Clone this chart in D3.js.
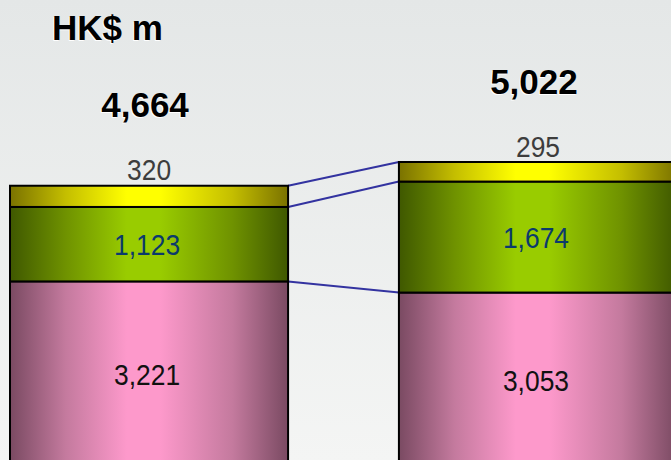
<!DOCTYPE html>
<html>
<head>
<meta charset="utf-8">
<script src="https://cdn.jsdelivr.net/npm/d3@7"></script>
<style>
html,body{margin:0;padding:0;background:#eef0ef;}
svg{display:block;}
</style>
</head>
<body>
<svg id="chart" width="671" height="460"></svg>
<script>
const categories = ["Period 1", "Period 2"];
const bottomValues = [3221, 3053];
const middleValues = [1123, 1674];
const topValues = [320, 295];
const totals = [4664, 5022];
const unitLabel = "HK$ m";

const W = 671, H = 460;
const svg = d3.select("#chart");
const defs = svg.append("defs");

// background
const bg = defs.append("linearGradient").attr("id","bg").attr("x1",0).attr("y1",0).attr("x2",0).attr("y2",1);
bg.append("stop").attr("offset","0%").attr("stop-color","#e4e7e7");
bg.append("stop").attr("offset","100%").attr("stop-color","#f4f5f4");
svg.append("rect").attr("width",W).attr("height",H).attr("fill","url(#bg)");

function hgrad(id, dark, mid, bright){
  const g = defs.append("linearGradient").attr("id",id).attr("x1",0).attr("y1",0).attr("x2",1).attr("y2",0);
  [[0,dark],[0.2,mid],[0.42,bright],[0.54,bright],[0.8,mid],[1,dark]].forEach(s=>{
    g.append("stop").attr("offset",s[0]).attr("stop-color",s[1]);
  });
}
hgrad("gPink","#7a4a62","#c47a9e","#fd99cb");
hgrad("gGreen","#3f5800","#6f9200","#99cc00");
hgrad("gYellow","#7a7200","#c4be00","#ffff00");

const x = d3.scaleBand().domain(categories).range([10, 677]).paddingInner(0.285).paddingOuter(0);
const y = d3.scaleLinear().domain([0, 5022]).range([495, 162]);
const bw = x.bandwidth();

const layers = [
  {vals: bottomValues, fill:"url(#gPink)"},
  {vals: middleValues, fill:"url(#gGreen)"},
  {vals: topValues, fill:"url(#gYellow)"}
];
const stacked = categories.map((c,i)=>{
  let acc = 0;
  return layers.map((l,k)=>{ const y0 = acc; acc += l.vals[i]; return {c, k, y0, y1: acc, v: l.vals[i], fill: l.fill}; });
});

// connectors
const conn = [];
for (let k=0;k<3;k++){
  conn.push({x1: x(categories[0])+bw, y1: y(stacked[0][k].y1), x2: x(categories[1]), y2: y(stacked[1][k].y1)});
}
svg.selectAll("line.conn").data(conn).enter().append("line")
  .attr("x1",d=>d.x1).attr("y1",d=>d.y1).attr("x2",d=>d.x2).attr("y2",d=>d.y2)
  .attr("stroke","#3333a0").attr("stroke-width",2);

// bars
const segs = stacked.flat();
svg.selectAll("rect.seg").data(segs).enter().append("rect")
  .attr("x",d=>x(d.c)).attr("y",d=>y(d.y1)).attr("width",bw).attr("height",d=>y(d.y0)-y(d.y1))
  .attr("fill",d=>d.fill).attr("stroke","#000").attr("stroke-width",2);

const fmt = d3.format(",");
const FF = "'Liberation Sans', Arial, sans-serif";
function addText(txt, cx, by, size, color, weight, sx){
  const g = svg.append("g").attr("transform",`translate(${cx},${by}) scale(${sx},1)`);
  g.append("text").attr("text-anchor","middle").attr("font-family",FF).attr("font-size",size)
   .attr("font-weight",weight).attr("fill",color).text(txt);
}
function addBold(txt, px, by, anchor){
  svg.append("text").attr("x",px-1).attr("y",by+1).attr("text-anchor",anchor).attr("font-family",FF)
    .attr("font-size",35).attr("font-weight","bold").attr("fill","#ffffff").text(txt);
  svg.append("text").attr("x",px).attr("y",by).attr("text-anchor",anchor).attr("font-family",FF)
    .attr("font-size",35).attr("font-weight","bold").attr("fill","#000").text(txt);
}

stacked.forEach((s,i)=>{
  const cx = x(s[0].c) + bw/2;
  const b = s[0];
  addText(fmt(b.v), cx - 2, y(b.y0 + b.v*0.565) + 10.5, 30, "#111111", "normal", 0.88);
  const m = s[1];
  addText(fmt(m.v), cx - 2, (y(m.y0)+y(m.y1))/2 + 10.5, 30, "#0b3a6c", "normal", 0.88);
  const t = s[2];
  addText(fmt(t.v), cx, y(t.y1) - 5.5, 30, "#3d3d3d", "normal", 0.88);
  addBold(fmt(totals[i]), cx - 4, y(totals[i]) - 68.5, "middle");
});

addBold(unitLabel, 52, 40, "start");
</script>
</body>
</html>
